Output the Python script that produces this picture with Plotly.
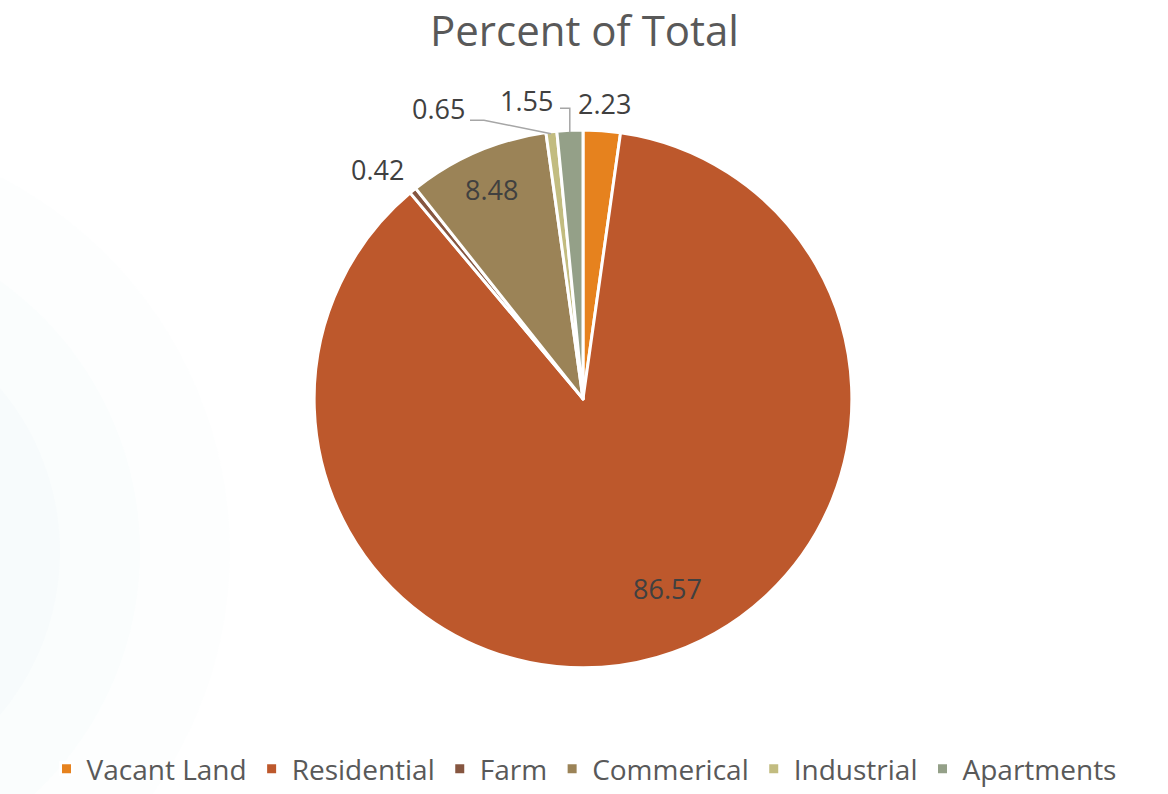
import math
import plotly.graph_objects as go

categories = ["Vacant Land", "Residential", "Farm", "Commerical", "Industrial", "Apartments"]
values = [2.23, 86.57, 0.42, 8.48, 0.65, 1.55]
colors = ["#E6821E", "#BD582C", "#865640", "#9B8357", "#C2BC80", "#94A088"]

W, H = 1168, 794
cx, cy, r = 583, 405, 273

# label placement (pixels) for each slice's value label
label_xy = [(604, 105), (667, 598), (377, 172), (491, 192), (438, 110), (526, 102)]


def px(x):
    return x / W


def py(y):
    return 1 - y / H


fig = go.Figure()
fig.add_trace(go.Pie(
    labels=categories,
    values=values,
    sort=False,
    direction="clockwise",
    rotation=0,
    marker=dict(colors=colors, line=dict(color="white", width=3)),
    textinfo="none",
    hoverinfo="label+value",
    domain=dict(x=[px(cx - r), px(cx + r)], y=[py(cy + r), py(cy - r)]),
))

total = sum(values)
mid_angles = []
cum = 0
for v in values:
    mid_angles.append((cum + v / 2) / total * 2 * math.pi)
    cum += v


def edge(i, rr):
    a = mid_angles[i]
    return cx + rr * math.sin(a), cy - rr * math.cos(a)


annotations = []
for i, v in enumerate(values):
    x, y = label_xy[i]
    annotations.append(dict(x=px(x), y=py(y), xref="paper", yref="paper",
                            text=f"{v:.2f}", showarrow=False,
                            font=dict(family="Open Sans", size=27, color="#404040"),
                            xanchor="center", yanchor="middle"))

annotations.append(dict(x=0.5, y=py(30), xref="paper", yref="paper", text="Percent of Total",
                        showarrow=False, xanchor="center", yanchor="middle",
                        font=dict(family="Open Sans", size=42, color="#595959")))

shapes = []
# faint decorative background rings on left
for rad, op in [(430, 0.10), (340, 0.12), (260, 0.14), (180, 0.16)]:
    shapes.append(dict(type="circle", xref="paper", yref="paper",
                       x0=px(-200 - rad), x1=px(-200 + rad),
                       y0=py(560 + rad), y1=py(560 - rad),
                       fillcolor=f"rgba(232,243,246,{op})", line=dict(width=0), layer="below"))

# leader lines for Industrial and Apartments
ex, ey = edge(4, r - 2)
shapes.append(dict(type="path", xref="paper", yref="paper",
                   path=f"M {px(470)},{py(122)} L {px(484)},{py(122)} L {px(ex)},{py(ey)}",
                   line=dict(color="#A6A6A6", width=1.5)))
ex, ey = edge(5, r - 2)
shapes.append(dict(type="path", xref="paper", yref="paper",
                   path=f"M {px(560)},{py(110)} L {px(ex)},{py(110)} L {px(ex)},{py(ey)}",
                   line=dict(color="#A6A6A6", width=1.5)))

fig.update_layout(
    width=W, height=H,
    margin=dict(l=0, r=0, t=0, b=0),
    paper_bgcolor="white",
    plot_bgcolor="white",
    shapes=shapes,
    annotations=annotations,
    showlegend=True,
    legend=dict(orientation="h", x=0.5, xanchor="center", y=py(781), yanchor="middle",
                bgcolor="rgba(0,0,0,0)",
                font=dict(family="Open Sans", size=28, color="#595959"),
                itemwidth=30, traceorder="normal"),
)

fig.write_html("out.html")
